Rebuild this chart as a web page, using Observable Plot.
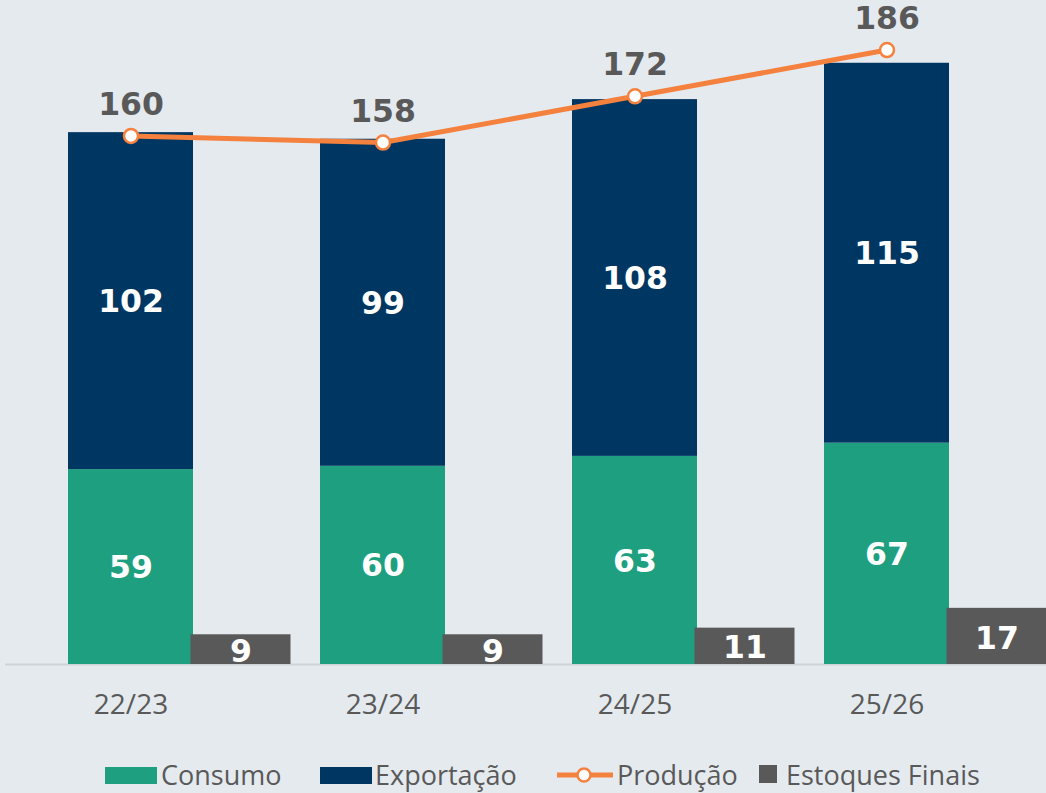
<!DOCTYPE html>
<html>
<head>
<meta charset="utf-8">
<script src="https://cdn.jsdelivr.net/npm/d3@7"></script>
<script src="https://cdn.jsdelivr.net/npm/@observablehq/plot@0.6"></script>
<style>
  html, body { margin: 0; padding: 0; background: #e5eaef; }
  #chart { width: 1046px; }
  #legend { position: relative; width: 1046px; height: 53px; font-family: "Open Sans", sans-serif; font-size: 27px; color: #595959; }
  .li { position: absolute; top: 0; height: 53px; display: flex; align-items: center; }
  .sw { display: inline-block; }
  .lt { line-height: 1; margin-top: 16px; }
</style>
</head>
<body>
<div id="chart"></div>
<div id="legend"></div>
<script>
const safras = ["22/23", "23/24", "24/25", "25/26"];
const consumo = [59, 60, 63, 67];
const exportacao = [102, 99, 108, 115];
const producao = [160, 158, 172, 186];
const estoques = [9, 9, 11, 17];

const cGreen = "#1e9f7f";
const cNavy = "#003662";
const cOrange = "#f5813f";
const cGray = "#595959";

const stacked = [];
safras.forEach((s, i) => {
  stacked.push({safra: s, serie: "Consumo", v: consumo[i], mid: consumo[i] / 2});
  stacked.push({safra: s, serie: "Exportação", v: exportacao[i], mid: consumo[i] + exportacao[i] / 2});
});
const prod = safras.map((s, i) => ({safra: s, v: producao[i]}));
const est = safras.map((s, i) => ({safra: s, v: estoques[i]}));

const bold = {fontFamily: "DejaVu Sans, Verdana, sans-serif", fontWeight: "bold", fontSize: 31.5};

const plot = Plot.plot({
  width: 1046,
  height: 740,
  marginLeft: 68,
  marginRight: 97,
  marginTop: 0,
  marginBottom: 76,
  style: {background: "#e5eaef", overflow: "visible"},
  x: {type: "band", domain: safras, paddingInner: 0.504, paddingOuter: 0, label: null},
  y: {domain: [0, 201], axis: null},
  color: {domain: ["Consumo", "Exportação"], range: [cGreen, cNavy]},
  marks: [
    Plot.ruleY([0], {stroke: "#d0d4d8", strokeWidth: 2, insetLeft: -63, insetRight: -97}),
    Plot.barY(stacked, {x: "safra", y: "v", fill: "serie", order: ["Consumo", "Exportação"]}),
    Plot.barY(est, {x: "safra", y: "v", fill: cGray, dx: 110, insetLeft: 12.5, insetRight: 12.5}),
    Plot.text(stacked, {x: "safra", y: "mid", text: d => String(d.v), fill: "white", dy: 1, ...bold}),
    Plot.text(est, {x: "safra", y: d => d.v / 2, text: d => String(d.v), fill: "white", dx: 110, dy: 2, ...bold}),
    Plot.line(prod, {x: "safra", y: "v", stroke: cOrange, strokeWidth: 5}),
    Plot.dot(prod, {x: "safra", y: "v", r: 7, fill: "white", stroke: cOrange, strokeWidth: 2.5}),
    Plot.text(prod, {x: "safra", y: "v", text: d => String(d.v), fill: cGray, dy: -31, ...bold}),
    Plot.axisX({tickSize: 0, tickPadding: 30, fontSize: 28, fontFamily: "Open Sans, sans-serif", color: cGray, label: null})
  ]
});
document.getElementById("chart").appendChild(plot);

const legendItems = [
  {label: "Consumo", left: 105, sw: `<span class="sw" style="width:52px;height:17px;background:${cGreen};margin-top:17px;margin-right:4px"></span>`},
  {label: "Exportação", left: 320, sw: `<span class="sw" style="width:52px;height:17px;background:${cNavy};margin-top:17px;margin-right:3px"></span>`},
  {label: "Produção", left: 557, sw: `<svg width="57" height="20" style="margin-top:17px;margin-right:3px"><line x1="0" y1="10" x2="56" y2="10" stroke="${cOrange}" stroke-width="5"/><circle cx="27" cy="10" r="6.5" fill="white" stroke="${cOrange}" stroke-width="2.5"/></svg>`},
  {label: "Estoques Finais", left: 759, sw: `<span class="sw" style="width:18px;height:18px;background:${cGray};margin-top:15px;margin-right:9px"></span>`}
];
const lg = document.getElementById("legend");
legendItems.forEach(it => {
  const d = document.createElement("div");
  d.className = "li";
  d.style.left = it.left + "px";
  d.innerHTML = it.sw + `<span class="lt">${it.label}</span>`;
  lg.appendChild(d);
});
</script>
</body>
</html>
